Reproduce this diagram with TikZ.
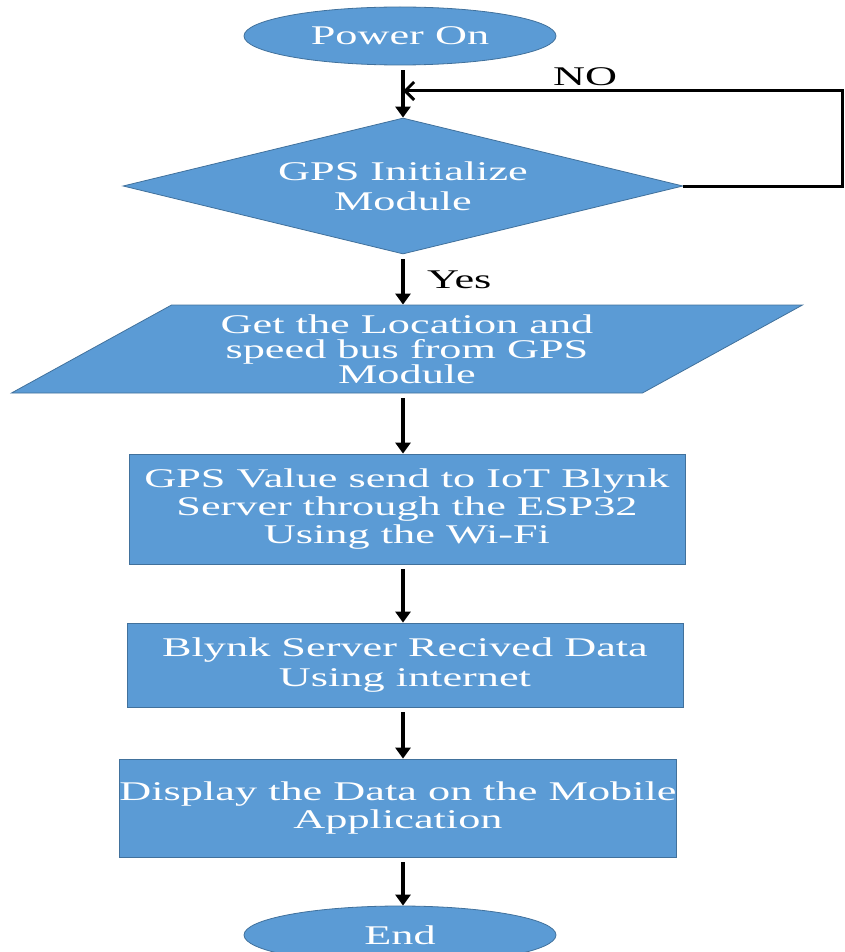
\documentclass[tikz,border=0pt]{standalone}
\usepackage{fontspec}
\setmainfont{Liberation Serif}[FakeStretch=1.64]
\usepackage{tikz}
\usetikzlibrary{arrows.meta}
\usetikzlibrary{shapes.geometric, positioning}
\definecolor{boxfill}{RGB}{91,155,213}
\definecolor{boxline}{RGB}{65,113,156}
\tikzstyle{flowshape} = [draw=boxline, fill=boxfill, line width=0.8pt, text=white, align=center, inner sep=0, font=\fontsize{27}{28}\selectfont]
\tikzstyle{terminal} = [flowshape, ellipse, minimum width=312pt, minimum height=58pt]
\tikzstyle{decision} = [flowshape, diamond, shape aspect=4.1, minimum width=560pt, minimum height=136pt, font=\fontsize{27}{30}\selectfont]
\tikzstyle{iobox} = [flowshape, trapezium, trapezium left angle=28.8, trapezium right angle=151.2, inner ysep=9.5pt, minimum width=791pt, trapezium stretches body, font=\fontsize{27}{25}\selectfont]
\tikzstyle{process} = [flowshape, rectangle, minimum width=556pt]
\tikzstyle{flowarrow} = [-{Triangle[length=11pt,width=15pt]}, line width=4pt, shorten <=5pt]
\tikzstyle{loopline} = [-{Straight Barb[length=9pt,width=18pt,line width=3pt]}, line width=3pt]
\tikzstyle{flowlabel} = [font=\fontsize{27}{28}\selectfont, inner sep=4pt]

\begin{document}
\begin{tikzpicture}[x=1pt, y=-1pt]
            \useasboundingbox (0,0) rectangle (844,952);
            % Nodes
            \node[terminal] (power) at (400, 36) {Power On};
            \node[decision] (gps) at (403, 186) {GPS Initialize \\ Module};
            \node[iobox] (location) at (407, 349) {Get the Location and \\ speed bus from GPS \\ Module};
            \node[process, minimum height=110pt] (send) at (407, 509) {GPS Value send to IoT Blynk \\ Server through the ESP32 \\ Using the Wi-Fi};
            \node[process, minimum height=84pt] (server) at (405, 665) {Blynk Server Recived Data \\[2pt] Using internet};
            \node[process, minimum height=98pt] (display) at (398, 808) {Display the Data on the Mobile \\ Application};
            \node[terminal] (finish) at (400, 935) {End};
            \coordinate (join) at (403, 91);
            \coordinate (loopcorner) at (842, 91);

            % Connecting lines
            \draw[flowarrow] (power.south -| join) -- (gps.north);
            \draw[flowarrow] (gps.south) -- (location.north -| gps.south) node[midway, right=18pt, flowlabel] {Yes};
            \draw[flowarrow] (location.south -| gps.south) -- (send.north -| gps.south);
            \draw[flowarrow] (send.south -| gps.south) -- (server.north -| gps.south);
            \draw[flowarrow] (server.south -| gps.south) -- (display.north -| gps.south);
            \draw[flowarrow] (display.south -| gps.south) -- (finish.north -| gps.south);
            \draw[loopline] (gps.east) -| (loopcorner) -- (join) node[pos=0.585, above, flowlabel] {NO};
        \end{tikzpicture}
\end{document}
